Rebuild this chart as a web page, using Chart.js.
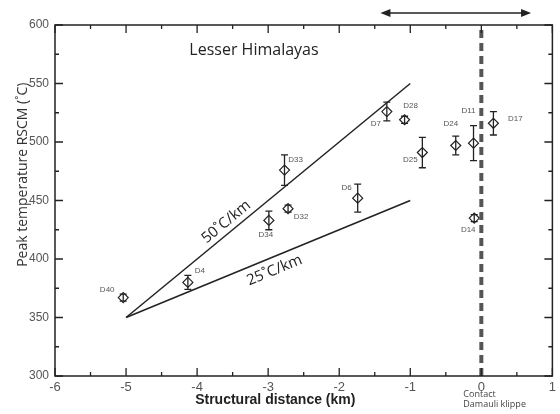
<!DOCTYPE html>
<html>
<head>
<meta charset="utf-8">
<script src="https://cdn.jsdelivr.net/npm/chart.js@4"></script>
<style>
  body { margin: 0; background: #fff; }
  #wrap { width: 560px; height: 414px; }
</style>
</head>
<body>
<div id="wrap"><canvas id="chart" width="560" height="414"></canvas></div>
<script>
// Samples
const sampleNames = ["D40", "D4", "D34", "D33", "D32", "D6", "D7", "D28", "D25", "D24", "D11", "D17", "D14"]
const distanceKm = [-5.04, -4.13, -2.99, -2.77, -2.72, -1.74, -1.33, -1.08, -0.83, -0.36, -0.11, 0.17, -0.1]
const peakTemp = [367, 380, 433, 476, 443, 452, 526, 519, 491, 497, 499, 516, 435]
const tempError = [3, 6, 8, 13, 3, 12, 8, 3, 13, 8, 15, 10, 3]

// Geothermal gradient lines
const gradient50 = [{ x: -5, y: 350 }, { x: -1, y: 550 }]
const gradient25 = [{ x: -5, y: 350 }, { x: -1, y: 450 }]
const contactLine = [{ x: 0, y: 300 }, { x: 0, y: 600 }]
const arrowRange = [-1.42, 0.7]

const xTicks = [-6, -5, -4, -3, -2, -1, 0, 1]
const yTicks = [300, 350, 400, 450, 500, 550, 600]

// label offsets in px, per sample
const labelOffsets = [[-16, -8], [12, -12], [-3, 14], [11, -10], [13, 8], [-11, -10], [-11, 12], [6, -14], [-12, 7], [-5, -22], [-5, -32], [22, -4], [-6, 12]]

const ink = "#222"

const decorPlugin = {
  id: "decor",
  afterDatasetsDraw(chart) {
    const { ctx } = chart
    const xs = chart.scales.x
    const ys = chart.scales.y
    ctx.save()

    // error bars
    ctx.strokeStyle = ink
    ctx.lineWidth = 1.3
    distanceKm.forEach((d, i) => {
      const e = tempError[i]
      if (!e) return
      const px = xs.getPixelForValue(d)
      const top = ys.getPixelForValue(peakTemp[i] + e)
      const bot = ys.getPixelForValue(peakTemp[i] - e)
      ctx.beginPath()
      ctx.moveTo(px, top); ctx.lineTo(px, bot)
      ctx.moveTo(px - 3.5, top); ctx.lineTo(px + 3.5, top)
      ctx.moveTo(px - 3.5, bot); ctx.lineTo(px + 3.5, bot)
      ctx.stroke()
    })

    // sample labels
    ctx.fillStyle = "#555"
    ctx.font = "8px 'Liberation Sans'"
    ctx.textAlign = "center"
    ctx.textBaseline = "middle"
    sampleNames.forEach((name, i) => {
      const px = xs.getPixelForValue(distanceKm[i])
      const py = ys.getPixelForValue(peakTemp[i])
      ctx.fillText(name, px + labelOffsets[i][0], py + labelOffsets[i][1])
    })

    // gradient labels along the lines
    const lineLabel = (pts, text, atX, offset) => {
      const x0 = xs.getPixelForValue(pts[0].x), y0 = ys.getPixelForValue(pts[0].y)
      const x1 = xs.getPixelForValue(pts[1].x), y1 = ys.getPixelForValue(pts[1].y)
      const ang = Math.atan2(y1 - y0, x1 - x0)
      const t = (atX - pts[0].x) / (pts[1].x - pts[0].x)
      const lx = x0 + (x1 - x0) * t, ly = y0 + (y1 - y0) * t
      ctx.save()
      ctx.translate(lx, ly)
      ctx.rotate(ang)
      ctx.fillStyle = ink
      ctx.font = "15px 'Open Sans'"
      ctx.textAlign = "center"
      ctx.textBaseline = "middle"
      ctx.fillText(text, 0, offset)
      ctx.restore()
    }
    lineLabel(gradient50, "50˚C/km", -3.5, -10)
    lineLabel(gradient25, "25˚C/km", -2.98, 13)

    // region title
    ctx.fillStyle = ink
    ctx.font = "16px 'Open Sans'"
    ctx.textAlign = "center"
    ctx.textBaseline = "middle"
    ctx.fillText("Lesser Himalayas", xs.getPixelForValue(-3.2), ys.getPixelForValue(578))

    ctx.restore()
  },
  afterDraw(chart) {
    const { ctx, chartArea: area } = chart
    const xs = chart.scales.x
    const ys = chart.scales.y
    ctx.save()

    // frame
    ctx.strokeStyle = ink
    ctx.lineWidth = 1.5
    ctx.strokeRect(area.left, area.top, area.right - area.left, area.bottom - area.top)

    // inward ticks on all four sides
    ctx.lineWidth = 1.3
    ctx.beginPath()
    for (let v = -6; v <= 1; v += 0.5) {
      const px = xs.getPixelForValue(v)
      const len = Number.isInteger(v) ? 8 : 4
      ctx.moveTo(px, area.bottom); ctx.lineTo(px, area.bottom - len)
      ctx.moveTo(px, area.top); ctx.lineTo(px, area.top + len)
    }
    for (let v = 300; v <= 600; v += 25) {
      const py = ys.getPixelForValue(v)
      const len = v % 50 === 0 ? 8 : 4
      ctx.moveTo(area.left, py); ctx.lineTo(area.left + len, py)
      ctx.moveTo(area.right, py); ctx.lineTo(area.right - len, py)
    }
    ctx.stroke()

    // double-headed arrow above the plot
    const ax0 = xs.getPixelForValue(arrowRange[0])
    const ax1 = xs.getPixelForValue(arrowRange[1])
    const ay = area.top - 12
    ctx.lineWidth = 1.5
    ctx.beginPath()
    ctx.moveTo(ax0 + 4, ay); ctx.lineTo(ax1 - 4, ay)
    ctx.stroke()
    ctx.fillStyle = ink
    ctx.beginPath()
    ctx.moveTo(ax0, ay); ctx.lineTo(ax0 + 10, ay - 4); ctx.lineTo(ax0 + 10, ay + 4); ctx.closePath()
    ctx.moveTo(ax1, ay); ctx.lineTo(ax1 - 10, ay - 4); ctx.lineTo(ax1 - 10, ay + 4); ctx.closePath()
    ctx.fill()

    // contact note
    const cx = xs.getPixelForValue(0) - 18
    ctx.fillStyle = "#444"
    ctx.font = "9px 'Open Sans'"
    ctx.textAlign = "left"
    ctx.textBaseline = "middle"
    ctx.fillText("Contact", cx, area.bottom + 18)
    ctx.fillText("Damauli klippe", cx, area.bottom + 28)

    // axis titles
    ctx.fillStyle = ink
    ctx.font = "bold 14px 'Liberation Sans'"
    ctx.textAlign = "center"
    ctx.fillText("Structural distance (km)", xs.getPixelForValue(-2.9), area.bottom + 24)

    ctx.save()
    ctx.translate(23, ys.getPixelForValue(472))
    ctx.rotate(-Math.PI / 2)
    ctx.fillStyle = "#333"
    ctx.font = "14px 'Open Sans'"
    ctx.fillText("Peak temperature RSCM (˚C)", 0, 0)
    ctx.restore()

    ctx.restore()
  },
}

const lineStyle = {
  showLine: true,
  pointRadius: 0,
  fill: false,
  borderColor: ink,
  borderWidth: 1.5,
}

new Chart(document.getElementById("chart"), {
  type: "scatter",
  data: {
    datasets: [
      {
        label: "50 C/km",
        data: gradient50,
        ...lineStyle,
      },
      {
        label: "25 C/km",
        data: gradient25,
        ...lineStyle,
      },
      {
        label: "Contact",
        data: contactLine,
        ...lineStyle,
        borderColor: "#555",
        borderWidth: 4,
        borderDash: [8, 5],
      },
      {
        label: "RSCM",
        data: distanceKm.map((d, i) => ({ x: d, y: peakTemp[i] })),
        pointStyle: "rectRot",
        pointRadius: 5,
        pointBorderWidth: 1.2,
        pointBorderColor: ink,
        pointBackgroundColor: "rgba(255,255,255,0)",
      },
    ],
  },
  options: {
    responsive: false,
    animation: false,
    layout: { padding: { top: 25, right: 7, left: 0, bottom: 0 } },
    plugins: {
      legend: { display: false },
      tooltip: { enabled: false },
    },
    scales: {
      x: {
        type: "linear",
        min: xTicks[0],
        max: xTicks[xTicks.length - 1],
        afterBuildTicks: (scale) => { scale.ticks = xTicks.map((v) => ({ value: v })) },
        afterFit: (scale) => { scale.height = 38 },
        grid: { display: false, drawTicks: false },
        border: { display: false },
        ticks: {
          padding: 4,
          color: "#555",
          font: { family: "Liberation Sans", size: 13 },
        },
      },
      y: {
        type: "linear",
        min: yTicks[0],
        max: yTicks[yTicks.length - 1],
        afterBuildTicks: (scale) => { scale.ticks = yTicks.map((v) => ({ value: v })) },
        afterFit: (scale) => { scale.width = 55 },
        grid: { display: false, drawTicks: false },
        border: { display: false },
        ticks: {
          padding: 6,
          color: "#555",
          font: { family: "Liberation Sans", size: 12 },
        },
      },
    },
  },
  plugins: [decorPlugin],
})
</script>
</body>
</html>
